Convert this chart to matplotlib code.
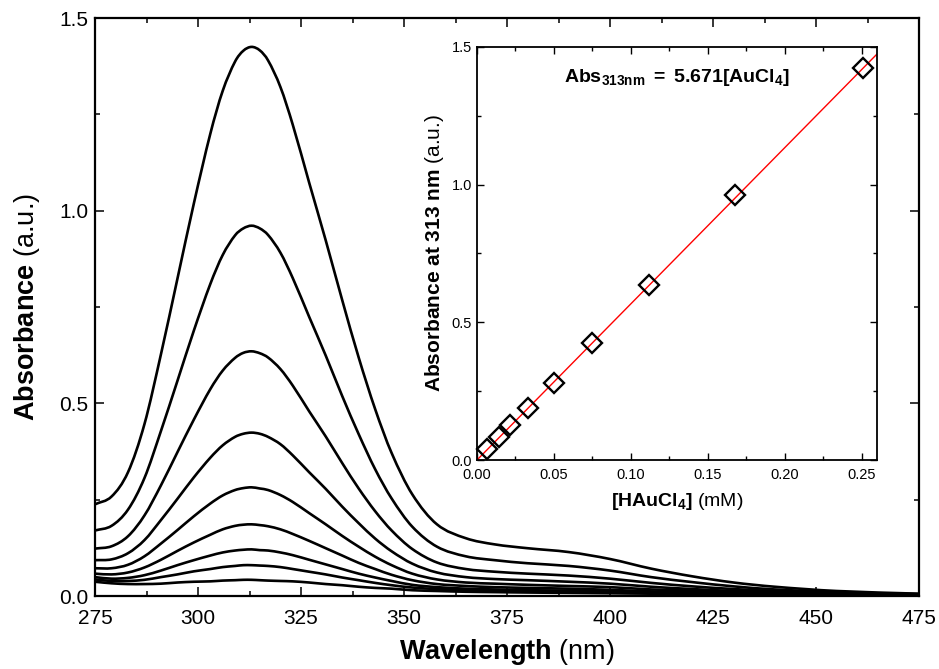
import matplotlib
matplotlib.use("Agg")
import matplotlib.pyplot as plt
from matplotlib.ticker import MultipleLocator
from matplotlib.path import Path
from matplotlib.patches import PathPatch

plt.rcParams['font.family'] = ['Liberation Sans', 'DejaVu Sans']
plt.rcParams['mathtext.fontset'] = 'custom'
plt.rcParams['mathtext.rm'] = 'Liberation Sans'
plt.rcParams['mathtext.bf'] = 'Liberation Sans:bold'
plt.rcParams['mathtext.it'] = 'Liberation Sans:italic'

# ---- main spectra data ----
wavelength = [275, 279, 283, 287, 291, 295, 299, 303, 306, 309, 311, 313, 315, 317, 320, 323, 327, 331,
              335, 339, 343, 347, 352, 358, 365, 372, 380, 390, 400, 410, 420, 430, 440, 455, 475]

spec1 = [0.238, 0.258, 0.321, 0.446, 0.627, 0.823, 1.019, 1.200, 1.311, 1.387, 1.415, 1.425, 1.416, 1.390,
         1.321, 1.223, 1.072, 0.923, 0.768, 0.619, 0.485, 0.371, 0.264, 0.186, 0.150, 0.134, 0.124, 0.114,
         0.096, 0.071, 0.051, 0.035, 0.024, 0.013, 0.006]
spec2 = [0.170, 0.182, 0.224, 0.306, 0.428, 0.558, 0.689, 0.810, 0.885, 0.936, 0.954, 0.961, 0.954, 0.937,
         0.891, 0.825, 0.724, 0.624, 0.519, 0.420, 0.329, 0.253, 0.180, 0.128, 0.103, 0.093, 0.085, 0.078,
         0.066, 0.049, 0.036, 0.025, 0.017, 0.010, 0.005]
spec3 = [0.123, 0.129, 0.155, 0.209, 0.287, 0.373, 0.458, 0.537, 0.585, 0.618, 0.631, 0.635, 0.630, 0.619,
         0.589, 0.546, 0.479, 0.414, 0.345, 0.279, 0.220, 0.170, 0.122, 0.087, 0.070, 0.063, 0.058, 0.053,
         0.045, 0.034, 0.025, 0.018, 0.013, 0.007, 0.004]
spec4 = [0.093, 0.095, 0.111, 0.145, 0.197, 0.252, 0.308, 0.359, 0.391, 0.413, 0.421, 0.424, 0.421, 0.413,
         0.394, 0.365, 0.321, 0.278, 0.232, 0.189, 0.149, 0.116, 0.084, 0.061, 0.049, 0.044, 0.041, 0.037,
         0.032, 0.024, 0.018, 0.013, 0.010, 0.006, 0.003]
spec5 = [0.072, 0.072, 0.081, 0.103, 0.136, 0.171, 0.207, 0.240, 0.261, 0.275, 0.280, 0.282, 0.279, 0.275,
         0.262, 0.244, 0.215, 0.186, 0.156, 0.128, 0.102, 0.080, 0.058, 0.043, 0.035, 0.032, 0.029, 0.026,
         0.023, 0.017, 0.014, 0.010, 0.008, 0.005, 0.003]
spec6 = [0.058, 0.056, 0.061, 0.074, 0.094, 0.117, 0.139, 0.159, 0.173, 0.182, 0.185, 0.186, 0.184, 0.181,
         0.173, 0.161, 0.143, 0.124, 0.105, 0.086, 0.070, 0.055, 0.041, 0.031, 0.026, 0.023, 0.021, 0.019,
         0.016, 0.012, 0.010, 0.008, 0.006, 0.004, 0.003]
spec7 = [0.049, 0.045, 0.047, 0.054, 0.066, 0.080, 0.093, 0.105, 0.113, 0.118, 0.120, 0.121, 0.119, 0.118,
         0.113, 0.106, 0.094, 0.082, 0.070, 0.058, 0.048, 0.039, 0.029, 0.023, 0.019, 0.017, 0.015, 0.014,
         0.012, 0.009, 0.008, 0.006, 0.005, 0.004, 0.002]
spec8 = [0.043, 0.039, 0.039, 0.042, 0.049, 0.056, 0.064, 0.070, 0.075, 0.078, 0.080, 0.080, 0.079, 0.078,
         0.075, 0.070, 0.063, 0.056, 0.048, 0.041, 0.034, 0.028, 0.022, 0.018, 0.015, 0.013, 0.012, 0.011,
         0.010, 0.008, 0.007, 0.005, 0.005, 0.003, 0.002]
spec9 = [0.037, 0.033, 0.031, 0.031, 0.032, 0.035, 0.037, 0.038, 0.040, 0.041, 0.042, 0.042, 0.041, 0.040,
         0.039, 0.038, 0.035, 0.031, 0.028, 0.024, 0.021, 0.019, 0.015, 0.013, 0.011, 0.010, 0.009, 0.008,
         0.007, 0.006, 0.006, 0.004, 0.004, 0.003, 0.002]

spectra = [spec1, spec2, spec3, spec4, spec5, spec6, spec7, spec8, spec9]

# ---- inset calibration data ----
conc_mM = [0.251, 0.1675, 0.112, 0.075, 0.050, 0.033, 0.0215, 0.014, 0.0068]
abs_313 = [1.423, 0.961, 0.636, 0.425, 0.281, 0.188, 0.126, 0.083, 0.040]
fit_slope = 5.671
fit_x = [0.0, 0.26]


def smooth_line(ax, x, y, **kw):
    """Connect the data points with a smooth (cubic Hermite / Bezier) line, like Origin's spline connect."""
    n = len(x)
    m = []
    for i in range(n):
        if i == 0:
            m.append((y[1] - y[0]) / (x[1] - x[0]))
        elif i == n - 1:
            m.append((y[-1] - y[-2]) / (x[-1] - x[-2]))
        else:
            m.append((y[i + 1] - y[i - 1]) / (x[i + 1] - x[i - 1]))
    verts = [(x[0], y[0])]
    codes = [Path.MOVETO]
    for i in range(n - 1):
        h = x[i + 1] - x[i]
        verts += [(x[i] + h / 3, y[i] + m[i] * h / 3),
                  (x[i + 1] - h / 3, y[i + 1] - m[i + 1] * h / 3),
                  (x[i + 1], y[i + 1])]
        codes += [Path.CURVE4] * 3
    patch = PathPatch(Path(verts, codes), fill=False, **kw)
    ax.add_patch(patch)
    return patch


fig = plt.figure(figsize=(9.39, 6.69), dpi=100)

# ---------------- main axes ----------------
ax = fig.add_axes([95/939, 1-596/669, (919-95)/939, (596-18)/669])
for s in spectra:
    smooth_line(ax, wavelength, s, edgecolor='black', lw=1.9, joinstyle='round', capstyle='round')

ax.set_xlim(275, 475)
ax.set_ylim(0, 1.5)
ax.xaxis.set_major_locator(MultipleLocator(25))
ax.xaxis.set_minor_locator(MultipleLocator(12.5))
ax.yaxis.set_major_locator(MultipleLocator(0.5))
ax.yaxis.set_minor_locator(MultipleLocator(0.25))
ax.yaxis.set_major_formatter(plt.FuncFormatter(lambda v, p: f"{v:.1f}"))
ax.tick_params(which='both', direction='in', top=True, right=True, width=1.1)
ax.tick_params(which='major', length=6.5, labelsize=15)
ax.tick_params(which='minor', length=3.6)
ax.tick_params(axis='x', which='major', pad=9)
ax.tick_params(axis='y', which='major', pad=5)
for sp in ax.spines.values():
    sp.set_linewidth(1.6)

ax.set_xlabel(r'$\mathbf{Wavelength}$ (nm)', fontsize=19.5, labelpad=7)
ax.set_ylabel(r'$\mathbf{Absorbance}$ (a.u.)', fontsize=19.5, labelpad=12)

# ---------------- inset axes ----------------
ins = fig.add_axes([477/939, 1-460/669, (877-477)/939, (460-47)/669])
fy = [fit_slope * v for v in fit_x]
ins.plot(fit_x, fy, color='red', lw=1.0, zorder=2)
ins.plot(conc_mM, abs_313, linestyle='none', marker='D', ms=10, mfc='none',
         mec='black', mew=1.7, zorder=3, clip_on=False)
ins.set_xlim(0, 0.26)
ins.set_ylim(0, 1.5)
ins.xaxis.set_major_locator(MultipleLocator(0.05))
ins.xaxis.set_minor_locator(MultipleLocator(0.025))
ins.yaxis.set_major_locator(MultipleLocator(0.5))
ins.yaxis.set_minor_locator(MultipleLocator(0.25))
ins.xaxis.set_major_formatter(plt.FuncFormatter(lambda v, p: f"{v:.2f}"))
ins.yaxis.set_major_formatter(plt.FuncFormatter(lambda v, p: f"{v:.1f}"))
ins.tick_params(which='both', direction='in', top=True, right=True, width=1.0)
ins.tick_params(which='major', length=5, labelsize=10.5)
ins.tick_params(which='minor', length=3)
ins.tick_params(axis='x', which='major', pad=6)
ins.tick_params(axis='y', which='major', pad=3.5)
for sp in ins.spines.values():
    sp.set_linewidth(1.3)

ins.set_xlabel(r'$\mathbf{[HAuCl_4]}$ (mM)', fontsize=14, labelpad=6)
ins.set_ylabel(r'$\mathbf{Absorbance\ at\ 313\ nm}$ (a.u.)', fontsize=15, labelpad=4)
ins.text(0.5, 0.925, r'$\mathbf{Abs_{313nm}\ =\ 5.671[AuCl_4]}$', transform=ins.transAxes,
         ha='center', va='center', fontsize=14)

fig.savefig('out.png', dpi=100)
